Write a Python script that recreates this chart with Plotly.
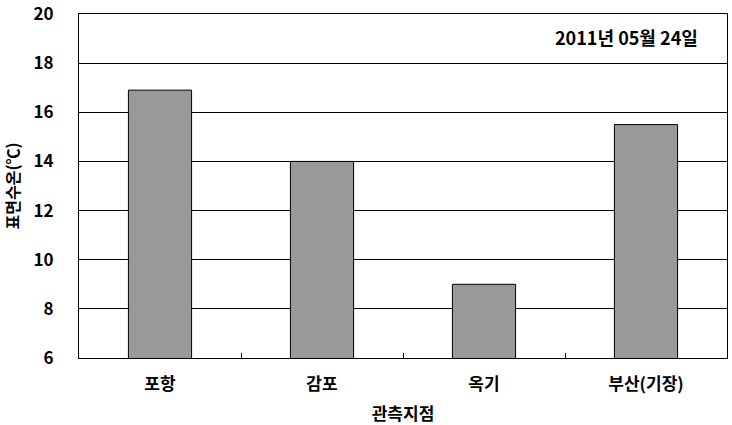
import plotly.graph_objects as go

# 관측지점별 표면수온
stations = ["포항", "감포", "옥기", "부산(기장)"]
temps = [16.9, 14.0, 9.0, 15.5]
y_ticks = [6, 8, 10, 12, 14, 16, 18, 20]

FONT = "Noto Sans CJK KR"

fig = go.Figure()
fig.add_trace(go.Bar(
    x=stations, y=temps,
    marker=dict(color="#999999", line=dict(color="black", width=1)),
    width=0.39,
))

fig.add_annotation(
    text="<b>2011년 05월 24일</b>",
    xref="paper", yref="paper", x=0.958, y=0.932,
    xanchor="right", yanchor="middle",
    showarrow=False, font=dict(family=FONT, size=18, color="black"),
)

fig.update_layout(
    width=732, height=425,
    margin=dict(l=79, r=5, t=14, b=67),
    paper_bgcolor="white",
    plot_bgcolor="white",
    font=dict(family=FONT, size=15, color="black"),
    showlegend=False,
    xaxis=dict(
        automargin=False,
        tickson="boundaries", ticks="inside", ticklen=5, tickcolor="black",
        showline=True, linecolor="black", linewidth=1, mirror=True,
        showgrid=False,
        tickfont=dict(family=FONT, size=17, color="black"),
        tickvals=stations, ticktext=[f"<b>{s}</b>" for s in stations],
        ticklabelstandoff=11,
        title=dict(text="<b>관측지점</b>", font=dict(family=FONT, size=17), standoff=13),
    ),
    yaxis=dict(
        automargin=False,
        range=[6, 20], tickvals=y_ticks,
        ticktext=[f"<b>{v}</b>" for v in y_ticks],
        ticklabeloverflow="allow",
        showline=True, linecolor="black", linewidth=1, mirror=True,
        showgrid=True, gridcolor="black", gridwidth=1,
        zeroline=False, ticks="", ticklabelstandoff=21,
        tickfont=dict(family=FONT, size=17, color="black"),
        title=dict(text="<b>표면수온(℃)</b>", font=dict(family=FONT, size=16), standoff=11),
    ),
)

fig.write_html(
    "out.html",
    config={"displayModeBar": False},
    post_script="document.body.style.margin='0';",
)
